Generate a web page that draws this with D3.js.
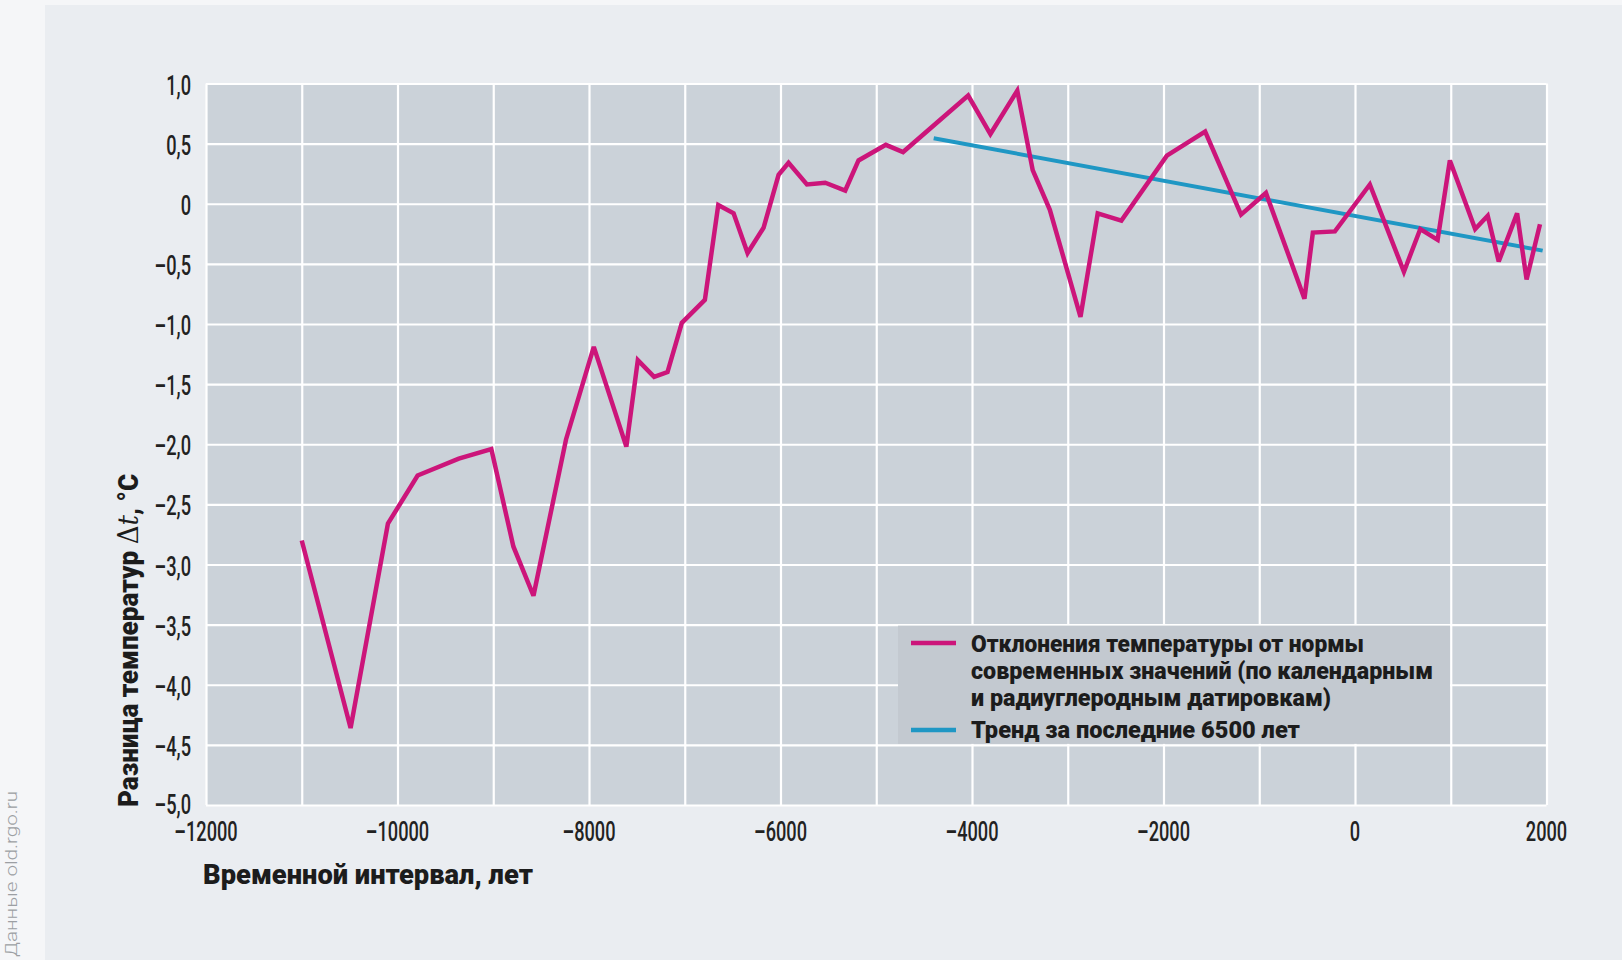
<!DOCTYPE html>
<html>
<head>
<meta charset="utf-8">
<script src="https://cdn.jsdelivr.net/npm/d3@7"></script>
<style>
  body { margin: 0; background: #f5f6f8; }
  svg { display: block; }
</style>
</head>
<body>
<svg id="chart" width="1622" height="960"></svg>
<script>
// Temperature deviation from modern norm, years (negative = BC)
const years = [
  -11000, -10490, -10100, -9790, -9360, -9020, -8790, -8580, -8240, -7950,
  -7610, -7490, -7320, -7180, -7030, -6790, -6650, -6490, -6344, -6177,
  -6020, -5916, -5724, -5533, -5324, -5185, -4900, -4720, -4040, -3808,
  -3527, -3366, -3187, -2867, -2687, -2440, -1965, -1565, -1190, -930,
  -528, -440, -210, 155, 511, 682, 863, 991, 1255, 1386,
  1501, 1693, 1792, 1932
];
const deviation = [
  -2.80, -4.36, -2.66, -2.26, -2.12, -2.04, -2.85, -3.26, -1.96, -1.19,
  -2.02, -1.30, -1.44, -1.40, -0.99, -0.80, -0.01, -0.08, -0.41, -0.20,
  0.24, 0.34, 0.16, 0.175, 0.11, 0.36, 0.49, 0.43, 0.90, 0.58,
  0.94, 0.28, -0.05, -0.94, -0.08, -0.14, 0.40, 0.60, -0.09, 0.09,
  -0.79, -0.24, -0.23, 0.16, -0.565, -0.21, -0.30, 0.36, -0.21, -0.10,
  -0.48, -0.08, -0.63, -0.17
];

// Linear trend over the last 6500 years
const trendYears = [-4400, 1960];
const trendValues = [0.545, -0.39];

// Axis ticks
const xLabelTicks = [-12000, -10000, -8000, -6000, -4000, -2000, 0, 2000];
const xGridTicks = d3.range(-12000, 2001, 1000);
const yTicks = [1.0, 0.5, 0, -0.5, -1.0, -1.5, -2.0, -2.5, -3.0, -3.5, -4.0, -4.5, -5.0];

// Texts
const xTitle = "Временной интервал, лет";
const legendDeviation = [
  "Отклонения температуры от нормы",
  "современных значений (по календарным",
  "и радиуглеродным датировкам)"
];
const legendTrend = "Тренд за последние 6500 лет";
const sourceNote = "Данные old.rgo.ru";

const colors = { deviation: "#cc157a", trend: "#1f97c4" };

const svg = d3.select("#chart");
const W = 1622, H = 960;
const plot = { left: 206, top: 83.5, right: 1546.5, bottom: 805 };

const x = d3.scaleLinear().domain([-12000, 2000]).range([plot.left, plot.right]);
const y = d3.scaleLinear().domain([-5, 1]).range([plot.bottom, plot.top]);

// page panel
svg.append("rect").attr("x", 0).attr("y", 0).attr("width", W).attr("height", H).attr("fill", "#f5f6f8");
svg.append("rect").attr("x", 45).attr("y", 5).attr("width", W - 45).attr("height", H - 5).attr("fill", "#eaedf1");

// plot background
svg.append("rect")
  .attr("x", plot.left).attr("y", plot.top)
  .attr("width", plot.right - plot.left).attr("height", plot.bottom - plot.top)
  .attr("fill", "#cbd2d9");

// gridlines
const grid = svg.append("g").attr("class", "grid");
grid.append("g")
  .attr("transform", `translate(0,${plot.bottom})`)
  .call(d3.axisBottom(x).tickValues(xGridTicks).tickSize(-(plot.bottom - plot.top)).tickFormat(""))
  .call(g => g.select(".domain").remove());
grid.append("g")
  .attr("transform", `translate(${plot.left},0)`)
  .call(d3.axisLeft(y).tickValues(yTicks).tickSize(-(plot.right - plot.left)).tickFormat(""))
  .call(g => g.select(".domain").remove());
grid.selectAll("line").attr("stroke", "#ffffff").attr("stroke-width", 2.2);

// legend box (covers grid)
svg.append("rect")
  .attr("x", 898).attr("y", y(-3.5) + 1)
  .attr("width", 1450 - 898).attr("height", y(-4.5) - y(-3.5) - 2)
  .attr("fill", "#c3c9d0");

const dash = "\u2013";
const fmt = v => v === 0 ? "0" : (v < 0 ? dash : "") + Math.abs(v).toFixed(1).replace(".", ",");
const fmtYear = v => v === 0 ? "0" : (v < 0 ? dash : "") + Math.abs(v);

const sx = 0.65;
// y tick labels
svg.append("g").selectAll("text").data(yTicks).join("text")
  .attr("transform", d => `translate(191,${y(d) + (d === -5 ? 9 : 11)}) scale(${sx},1)`)
  .attr("text-anchor", "end")
  .attr("font-family", "Roboto, 'DejaVu Sans', sans-serif")
  .attr("font-weight", 500)
  .attr("font-size", 28)
  .attr("fill", "#222")
  .text(fmt);

// x tick labels
svg.append("g").selectAll("text").data(xLabelTicks).join("text")
  .attr("transform", d => `translate(${x(d)},841) scale(${sx},1)`)
  .attr("text-anchor", "middle")
  .attr("font-family", "Roboto, 'DejaVu Sans', sans-serif")
  .attr("font-weight", 500)
  .attr("font-size", 28)
  .attr("fill", "#222")
  .text(fmtYear);

// axis titles
svg.append("text")
  .attr("x", 203).attr("y", 884)
  .attr("font-family", "Roboto, 'DejaVu Sans', sans-serif")
  .attr("font-weight", 900)
  .attr("font-size", 27)
  .attr("fill", "#1c1c1c")
  .attr("textLength", 330).attr("lengthAdjust", "spacingAndGlyphs")
  .text(xTitle);

const yTitle = svg.append("text")
  .attr("transform", "translate(138,807) rotate(-90)")
  .attr("font-family", "Roboto, 'DejaVu Sans', sans-serif")
  .attr("font-weight", 900)
  .attr("font-size", 27)
  .attr("fill", "#1c1c1c")
  .attr("textLength", 333).attr("lengthAdjust", "spacingAndGlyphs");
yTitle.append("tspan").text("Разница температур ");
yTitle.append("tspan").attr("font-family", "'DejaVu Serif', serif").attr("font-weight", 400).text("\u0394");
yTitle.append("tspan").attr("font-family", "'DejaVu Serif', serif").attr("font-weight", 400).attr("font-style", "italic").text("t");
yTitle.append("tspan").text(", °С");

// source note
svg.append("text")
  .attr("transform", "translate(17,957) rotate(-90)")
  .attr("font-family", "Roboto, 'DejaVu Sans', sans-serif")
  .attr("font-weight", 300)
  .attr("font-size", 16)
  .attr("fill", "#9c9fa3")
  .attr("textLength", 166).attr("lengthAdjust", "spacingAndGlyphs")
  .text(sourceNote);

// trend line
const trendData = trendYears.map((t, i) => [t, trendValues[i]]);
svg.append("path")
  .datum(trendData)
  .attr("fill", "none")
  .attr("stroke", colors.trend)
  .attr("stroke-width", 4)
  .attr("d", d3.line().x(d => x(d[0])).y(d => y(d[1])));

// deviation line
const devData = years.map((t, i) => [t, deviation[i]]);
svg.append("path")
  .datum(devData)
  .attr("fill", "none")
  .attr("stroke", colors.deviation)
  .attr("stroke-width", 4.5)
  .attr("stroke-linejoin", "miter")
  .attr("stroke-miterlimit", 3)
  .attr("d", d3.line().x(d => x(d[0])).y(d => y(d[1])));

// legend
const legend = svg.append("g");
legend.append("line").attr("x1", 911).attr("x2", 956).attr("y1", 643).attr("y2", 643)
  .attr("stroke", colors.deviation).attr("stroke-width", 4.5);
legend.append("line").attr("x1", 911).attr("x2", 956).attr("y1", 730).attr("y2", 730)
  .attr("stroke", colors.trend).attr("stroke-width", 4.5);

const legendWidths = [393, 462, 360];
const legendBaselines = [652, 679, 706];
legendDeviation.forEach((t, i) => {
  legend.append("text")
    .attr("x", 971).attr("y", legendBaselines[i])
    .attr("font-family", "Roboto, 'DejaVu Sans', sans-serif")
    .attr("font-weight", 900)
    .attr("font-size", 24)
    .attr("fill", "#1c1c1c")
    .attr("textLength", legendWidths[i]).attr("lengthAdjust", "spacingAndGlyphs")
    .text(t);
});
legend.append("text")
  .attr("x", 971).attr("y", 738)
  .attr("font-family", "Roboto, 'DejaVu Sans', sans-serif")
  .attr("font-weight", 900)
  .attr("font-size", 24)
  .attr("fill", "#1c1c1c")
  .attr("textLength", 329).attr("lengthAdjust", "spacingAndGlyphs")
  .text(legendTrend);
</script>
</body>
</html>
